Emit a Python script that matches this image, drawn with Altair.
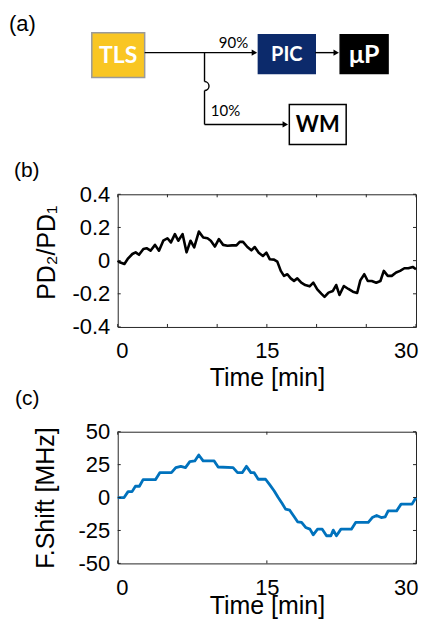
import altair as alt
import pandas as pd

FONT = "Liberation Sans"
DFONT = "Lato"

# ---------------- panel (b): PD2/PD1 vs time ----------------
b_time = [0, 0.2, 0.67, 1.0, 1.47, 1.8, 2.14, 2.58, 2.9, 3.3,
          3.75, 4.15, 4.58, 5.0, 5.35, 5.75, 6.09, 6.52, 6.92, 7.32,
          7.69, 8.16, 8.6, 9.03, 9.36, 9.77, 10.17, 10.6, 11.04, 11.5,
          11.94, 12.27, 12.6, 13.04, 13.44, 13.78, 14.18, 14.6, 14.95, 15.3,
          15.72, 16.05, 16.4, 16.72, 17.06, 17.4, 17.73, 18.06, 18.46, 18.86,
          19.3, 19.67, 20.07, 20.47, 20.8, 21.2, 21.64, 21.97, 22.3, 22.74,
          23.2, 23.65, 24.08, 24.4, 24.8, 25.15, 25.55, 26.0, 26.42, 26.76,
          27.16, 27.56, 28.0, 28.4, 28.83, 29.23, 29.67, 30.0]
b_ratio = [0, -0.01, -0.02, 0.01, 0.04, 0.05, 0.035, 0.07, 0.075, 0.06,
           0.095, 0.06, 0.12, 0.135, 0.11, 0.16, 0.12, 0.16, 0.05, 0.12,
           0.08, 0.175, 0.14, 0.135, 0.12, 0.085, 0.13, 0.095, 0.09, 0.092,
           0.092, 0.113, 0.113, 0.082, 0.062, 0.082, 0.048, 0.028, 0.048, 0.008,
           0.006, -0.006, -0.062, -0.092, -0.082, -0.107, -0.122, -0.107, -0.133, -0.147,
           -0.155, -0.133, -0.173, -0.199, -0.219, -0.193, -0.183, -0.147, -0.207, -0.153,
           -0.171, -0.187, -0.195, -0.119, -0.082, -0.123, -0.123, -0.133, -0.123, -0.062,
           -0.092, -0.092, -0.072, -0.062, -0.046, -0.046, -0.038, -0.052]
b_xticks = [0, 5, 10, 15, 20, 25, 30]
b_xlabels = [0, 15, 30]
b_yticks = [-0.4, -0.2, 0, 0.2, 0.4]

# ---------------- panel (c): frequency shift vs time ----------------
c_time = [0, 0.64, 1.04, 1.44, 1.78, 2.18, 2.55, 3.79, 4.23, 5.4,
          5.84, 6.34, 6.81, 7.25, 7.75, 8.15, 8.59, 9.7, 10.1, 11.6,
          12.05, 12.52, 12.95, 13.39, 13.72, 14.13, 14.87, 15.3, 15.74, 16.14,
          16.54, 16.88, 17.3, 17.75, 18.09, 18.49, 18.9, 19.33, 19.66, 20.1,
          20.57, 21.0, 21.44, 21.68, 22.0, 22.45, 23.5, 23.93, 25.2, 25.6,
          26.04, 26.5, 26.9, 27.2, 28.05, 28.5, 29.6, 30.0]
c_shift = [0, 0, 4.5, 4.5, 8.6, 8.6, 13.6, 13.6, 18.9, 18.9,
           22.7, 23.7, 22.7, 27.3, 27.8, 32.3, 27.8, 27.8, 23.2, 22.7,
           18.9, 18.9, 23.7, 18.9, 18.9, 13.9, 13.9, 9.6, 5, 0,
           -4.5, -8.8, -9.6, -14.6, -18.4, -18.9, -22.7, -24, -28.3, -24,
           -24, -29, -29, -24.7, -29, -24, -24, -18.9, -18.9, -15.2,
           -13.6, -15.2, -14.6, -10.1, -10.1, -5, -5, 0]
c_xticks = [0, 15, 30]
c_yticks = [-50, -25, 0, 25, 50]

# ---------------- panel (a): setup diagram ----------------
box_names = ["TLS", "PIC", "μP", "WM"]
box_x1 = [90, 257, 339, 288]
box_x2 = [143, 314, 387, 345]
box_y1 = [31, 33, 33, 103]
box_y2 = [76, 72, 72, 143]
box_fill = ["#F9C623", "#0C2A6B", "#000000", "#FFFFFF"]
box_stroke = ["#9a9a9a", "#0C2A6B", "#000000", "#000000"]
box_text = ["#FFFFFF", "#FFFFFF", "#FFFFFF", "#000000"]
box_fsize = [23, 20, 25, 22]

seg_x1 = [143, 314, 203, 203, 203]
seg_y1 = [51, 51, 51, 89, 123]
seg_x2 = [252, 334, 203, 203, 283]
seg_y2 = [51, 51, 80, 123, 123]

arrow_x = [253, 335, 284]
arrow_y = [51, 51, 123]

hop_x = [203]
hop_y = [84.5]

pct_text = ["90%", "10%"]
pct_x = [232, 224]
pct_y = [46, 115]

panel_labels = ["(a)", "(b)", "(c)"]

W = 299
HA, HB, HC = 80, 133, 132
SP = 105

# ---- panel (a) ----
sxa = alt.Scale(domain=[116, 415], nice=False, zero=False)
sya = alt.Scale(domain=[8, 88], nice=False, zero=False, reverse=True)

boxes = pd.DataFrame({"name": box_names, "x1": box_x1, "x2": box_x2, "y1": box_y1,
                      "y2": box_y2, "fill": box_fill, "stroke": box_stroke,
                      "tc": box_text, "fs": box_fsize})
boxes["cx"] = (boxes["x1"] + boxes["x2"]) / 2
boxes["cy"] = (boxes["y1"] + boxes["y2"]) / 2

rects = alt.Chart(boxes).mark_rect(strokeWidth=1.5).encode(
    x=alt.X("x1:Q", scale=sxa, axis=None), x2="x2:Q",
    y=alt.Y("y1:Q", scale=sya, axis=None), y2="y2:Q",
    fill=alt.Fill("fill:N", scale=None), stroke=alt.Stroke("stroke:N", scale=None))
box_lab = alt.Chart(boxes).mark_text(font=DFONT, fontWeight="bold", baseline="middle",
                                     align="center", dy=1).encode(
    x=alt.X("cx:Q", scale=sxa, axis=None), y=alt.Y("cy:Q", scale=sya, axis=None),
    text="name:N", color=alt.Color("tc:N", scale=None), size=alt.Size("fs:Q", scale=None))
segs = alt.Chart(pd.DataFrame({"x1": seg_x1, "y1": seg_y1, "x2": seg_x2, "y2": seg_y2})).mark_rule(
    color="black", strokeWidth=1.4).encode(
    x=alt.X("x1:Q", scale=sxa, axis=None), x2="x2:Q",
    y=alt.Y("y1:Q", scale=sya, axis=None), y2="y2:Q")
arrows = alt.Chart(pd.DataFrame({"x": arrow_x, "y": arrow_y})).mark_point(
    shape="triangle-right", filled=True, size=40, color="black", opacity=1).encode(
    x=alt.X("x:Q", scale=sxa, axis=None), y=alt.Y("y:Q", scale=sya, axis=None))
hop = alt.Chart(pd.DataFrame({"x": hop_x, "y": hop_y})).mark_arc(
    radius=5.2, radius2=3.8, theta=0, theta2=3.1416, color="black").encode(
    x=alt.X("x:Q", scale=sxa, axis=None), y=alt.Y("y:Q", scale=sya, axis=None))
pcts = alt.Chart(pd.DataFrame({"t": pct_text, "x": pct_x, "y": pct_y})).mark_text(
    font=DFONT, fontSize=15, align="center", baseline="alphabetic", color="black").encode(
    x=alt.X("x:Q", scale=sxa, axis=None), y=alt.Y("y:Q", scale=sya, axis=None), text="t:N")
lab_a = alt.Chart(pd.DataFrame({"t": [panel_labels[0]], "x": [7], "y": [29]})).mark_text(
    font=FONT, fontSize=22, align="left", baseline="alphabetic", color="black").encode(
    x=alt.X("x:Q", scale=sxa, axis=None), y=alt.Y("y:Q", scale=sya, axis=None), text="t:N")

panel_a = alt.layer(rects, segs, arrows, hop, box_lab, pcts, lab_a).properties(
    width=W, height=HA, view=alt.ViewBackground(stroke="transparent"))


def tick_layers(xticks, yticks, xenc, yenc, h):
    tc = "#262626"
    dx = pd.DataFrame({"t": xticks})
    dy = pd.DataFrame({"v": yticks})
    out = []
    for ya, yb in [(h, h - 3), (0, 3)]:
        out.append(alt.Chart(dx).mark_rule(color=tc, strokeWidth=1).encode(
            x=xenc("t:Q"), y=alt.value(ya), y2=alt.value(yb)))
    for xa, xb in [(0, 3), (W - 3, W)]:
        out.append(alt.Chart(dy).mark_rule(color=tc, strokeWidth=1).encode(
            y=yenc("v:Q"), x=alt.value(xa), x2=alt.value(xb)))
    return out


# ---- panel (b) ----
def xb(f):
    return alt.X(f, scale=alt.Scale(domain=[0, 30], nice=False, zero=False),
                 axis=alt.Axis(values=b_xlabels, title="Time [min]", labelFlush=True,
                               labelFlushOffset=2,
                               labelBaseline="alphabetic", labelPadding=31,
                               titleY=59, titleBaseline="alphabetic"))


def yb(f):
    return alt.Y(f, scale=alt.Scale(domain=[-0.4, 0.4], nice=False, zero=False),
                 axis=alt.Axis(values=b_yticks, title="PD₂/PD₁", labelPadding=8, titleX=-63,
                               titleY=58, titleBaseline="alphabetic",
                               labelExpr="datum.value == 0 ? '0' : (datum.value < 0 ? '-' : '') + format(abs(datum.value), '.1f')"))


line_b = alt.Chart(pd.DataFrame({"t": b_time, "v": b_ratio})).mark_line(
    color="black", strokeWidth=2.6, strokeJoin="round").encode(x=xb("t:Q"), y=yb("v:Q"))
lab_b = alt.Chart(pd.DataFrame({"t": [panel_labels[1]]})).mark_text(
    font=FONT, fontSize=21, align="left", baseline="alphabetic", color="black").encode(
    x=alt.value(-104), y=alt.value(-17), text="t:N")
panel_b = alt.layer(line_b, *tick_layers(b_xticks, b_yticks, xb, yb, HB), lab_b).properties(
    width=W, height=HB)


# ---- panel (c) ----
def xc(f):
    return alt.X(f, scale=alt.Scale(domain=[0, 30], nice=False, zero=False),
                 axis=alt.Axis(values=c_xticks, title="Time [min]", labelFlush=True,
                               labelFlushOffset=2,
                               labelBaseline="alphabetic", labelPadding=31,
                               titleY=50, titleBaseline="alphabetic"))


def yc(f):
    return alt.Y(f, scale=alt.Scale(domain=[-50, 50], nice=False, zero=False),
                 axis=alt.Axis(values=c_yticks, title="F.Shift [MHz]", labelPadding=8, titleX=-64,
                               titleBaseline="alphabetic",
                               labelExpr="(datum.value < 0 ? '-' : '') + format(abs(datum.value), 'd')"))


line_c = alt.Chart(pd.DataFrame({"t": c_time, "v": c_shift})).mark_line(
    color="#0072BD", strokeWidth=2.8, strokeJoin="round").encode(x=xc("t:Q"), y=yc("v:Q"))
lab_c = alt.Chart(pd.DataFrame({"t": [panel_labels[2]]})).mark_text(
    font=FONT, fontSize=21, align="left", baseline="alphabetic", color="black").encode(
    x=alt.value(-103), y=alt.value(-27), text="t:N")
panel_c = alt.layer(line_c, *tick_layers(c_xticks, c_yticks, xc, yc, HC), lab_c).properties(
    width=W, height=HC)

chart = alt.vconcat(panel_a, panel_b, panel_c, spacing=SP, bounds="flush").properties(
    padding=0
).configure_view(stroke="#262626", strokeWidth=1).configure_axis(
    grid=False, domain=False, ticks=False,
    labelFont=FONT, titleFont=FONT, labelFontSize=22, titleFontSize=25,
    titleFontWeight="normal", labelColor="black", titleColor="black")

chart.save("out.html", embed_options={"renderer": "svg", "actions": False})
